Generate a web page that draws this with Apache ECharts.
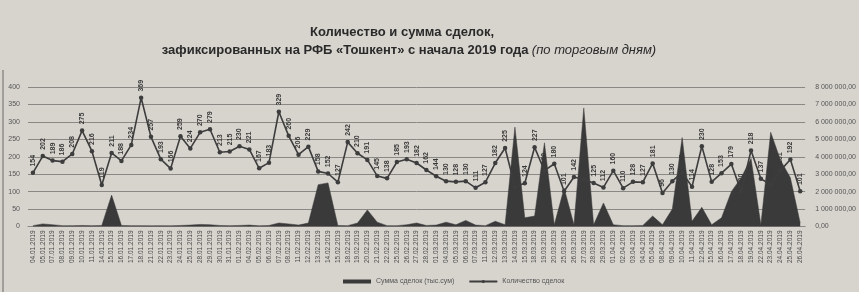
<!DOCTYPE html>
<html>
<head>
<meta charset="utf-8">
<script src="https://cdn.jsdelivr.net/npm/echarts@6/dist/echarts.min.js"></script>
<style>
  html, body { margin: 0; padding: 0; background: #d7d4ce; }
  #main { width: 859px; height: 292px; }
</style>
</head>
<body>
<div id="main"></div>
<script>
// торговые дни
var dates = [
  '04.01.2019', '05.01.2019', '07.01.2019', '08.01.2019', '09.01.2019', '10.01.2019', '11.01.2019',
  '14.01.2019', '15.01.2019', '16.01.2019', '17.01.2019', '18.01.2019', '21.01.2019', '22.01.2019',
  '23.01.2019', '24.01.2019', '25.01.2019', '28.01.2019', '29.01.2019', '30.01.2019', '31.01.2019',
  '01.02.2019', '04.02.2019', '05.02.2019', '06.02.2019', '07.02.2019', '08.02.2019', '11.02.2019',
  '12.02.2019', '13.02.2019', '14.02.2019', '15.02.2019', '18.02.2019', '19.02.2019', '20.02.2019',
  '21.02.2019', '22.02.2019', '25.02.2019', '26.02.2019', '27.02.2019', '28.02.2019',
  '01.03.2019', '04.03.2019', '05.03.2019', '06.03.2019', '07.03.2019', '11.03.2019', '12.03.2019',
  '13.03.2019', '14.03.2019', '15.03.2019', '18.03.2019', '19.03.2019', '20.03.2019', '25.03.2019',
  '26.03.2019', '27.03.2019', '28.03.2019', '29.03.2019',
  '01.04.2019', '02.04.2019', '03.04.2019', '04.04.2019', '05.04.2019', '08.04.2019', '09.04.2019',
  '10.04.2019', '11.04.2019', '12.04.2019', '15.04.2019', '16.04.2019', '17.04.2019', '18.04.2019',
  '19.04.2019', '22.04.2019', '23.04.2019', '24.04.2019', '25.04.2019', '26.04.2019'
]

// Количество сделок
var dealCount = [
  154, 202, 189, 186, 208, 275, 216, 119, 211, 188,
  234, 369, 257, 193, 166, 259, 224, 270, 279, 213,
  215, 230, 221, 167, 183, 329, 260, 206, 229, 158,
  152, 127, 242, 210, 191, 145, 138, 185, 193, 182,
  162, 144, 130, 128, 130, 111, 127, 182, 225, 114,
  124, 227, 160, 180, 101, 142, 135, 125, 112, 160,
  110, 128, 127, 181, 96, 130, 155, 114, 230, 128,
  153, 179, 100, 218, 137, 120, 161, 192, 101
]

// Сумма сделок (тыс.сум)
var dealSum = [
  50000, 150000, 100000, 50000, 50000, 60000, 50000, 60000, 1800000, 60000,
  50000, 50000, 40000, 50000, 40000, 60000, 80000, 120000, 100000, 60000,
  50000, 60000, 80000, 40000, 60000, 200000, 150000, 80000, 200000, 2400000,
  2500000, 60000, 50000, 200000, 950000, 250000, 50000, 50000, 100000, 200000,
  60000, 80000, 250000, 100000, 350000, 80000, 50000, 300000, 100000, 5700000,
  500000, 600000, 4800000, 100000, 2200000, 100000, 6800000, 100000, 1350000, 100000,
  50000, 50000, 60000, 600000, 100000, 1000000, 5100000, 300000, 1100000, 100000,
  500000, 2000000, 2800000, 3900000, 100000, 5400000, 3800000, 2800000, 200000
]

var leftTicks = { min: 0, max: 400, interval: 50 }
var rightTicks = { min: 0, max: 8000000, interval: 1000000 }

function fmtSum(v) {
  if (v === 0) return '0,00'
  return String(v).replace(/\B(?=(\d{3})+(?!\d))/g, ' ') + ',00'
}

var font = '"Liberation Sans", Arial, sans-serif'
var myChart = echarts.init(document.getElementById('main'))

var option = {
  backgroundColor: '#d7d4ce',
  animation: false,
  textStyle: { fontFamily: font },
  graphic: [
    {
      type: 'text',
      x: 402,
      y: 32,
      style: {
        text: 'Количество и сумма сделок,',
        align: 'center',
        verticalAlign: 'middle',
        font: 'bold 13px ' + font,
        fill: '#2a2a2a'
      }
    },
    {
      type: 'text',
      x: 409,
      y: 50,
      style: {
        text: '{b|зафиксированных на РФБ «Тошкент» с начала 2019 года} {i|(по торговым дням)}',
        align: 'center',
        verticalAlign: 'middle',
        rich: {
          b: { font: 'bold 13px ' + font, fill: '#2a2a2a' },
          i: { font: 'italic 13px ' + font, fill: '#2a2a2a' }
        }
      }
    },
    {
      type: 'line',
      shape: { x1: 3, y1: 70, x2: 3, y2: 292 },
      style: { stroke: '#6a6866', lineWidth: 1 }
    }
  ],
  legend: {
    left: 338,
    top: 273,
    itemGap: 14,
    textStyle: { fontSize: 7, color: '#555' },
    data: [
      { name: 'Сумма сделок (тыс.сум)', icon: 'rect', itemStyle: { color: '#3a3a3a' } },
      { name: 'Количество сделок' }
    ],
    itemWidth: 28,
    itemHeight: 4
  },
  grid: {
    left: 28,
    right: 48,
    top: 87,
    bottom: 65.5
  },
  xAxis: {
    type: 'category',
    data: dates,
    boundaryGap: true,
    axisTick: { show: false },
    axisLine: { show: true, lineStyle: { color: '#8a8886' } },
    axisLabel: {
      interval: 0,
      rotate: 90,
      fontSize: 6.5,
      color: '#4a4a4a',
      margin: 4
    }
  },
  yAxis: [
    {
      type: 'value',
      min: leftTicks.min,
      max: leftTicks.max,
      interval: leftTicks.interval,
      axisLine: { show: false },
      axisTick: { show: false },
      axisLabel: { fontSize: 7, color: '#555', margin: 8 },
      splitLine: { lineStyle: { color: '#8a8885', width: 1 } }
    },
    {
      type: 'value',
      min: rightTicks.min,
      max: rightTicks.max,
      interval: rightTicks.interval,
      axisLine: { show: false },
      axisTick: { show: false },
      splitLine: { show: false },
      axisLabel: { fontSize: 7, color: '#555', margin: 10, formatter: fmtSum }
    }
  ],
  series: [
    {
      name: 'Сумма сделок (тыс.сум)',
      type: 'line',
      yAxisIndex: 1,
      data: dealSum,
      symbol: 'none',
      lineStyle: { width: 0.5, color: '#3a3a3a' },
      itemStyle: { color: '#3a3a3a' },
      areaStyle: { color: '#3a3a3a', opacity: 1 },
      z: 1
    },
    {
      name: 'Количество сделок',
      type: 'line',
      yAxisIndex: 0,
      data: dealCount,
      symbol: 'circle',
      symbolSize: 4.5,
      lineStyle: { width: 1.6, color: '#3d3d3d' },
      itemStyle: { color: '#3d3d3d' },
      label: {
        show: true,
        position: 'top',
        rotate: 90,
        align: 'left',
        verticalAlign: 'middle',
        distance: 4,
        fontSize: 7,
        fontWeight: 'bold',
        color: '#3a3a3a'
      },
      z: 3
    }
  ]
}

myChart.setOption(option)
</script>
</body>
</html>
